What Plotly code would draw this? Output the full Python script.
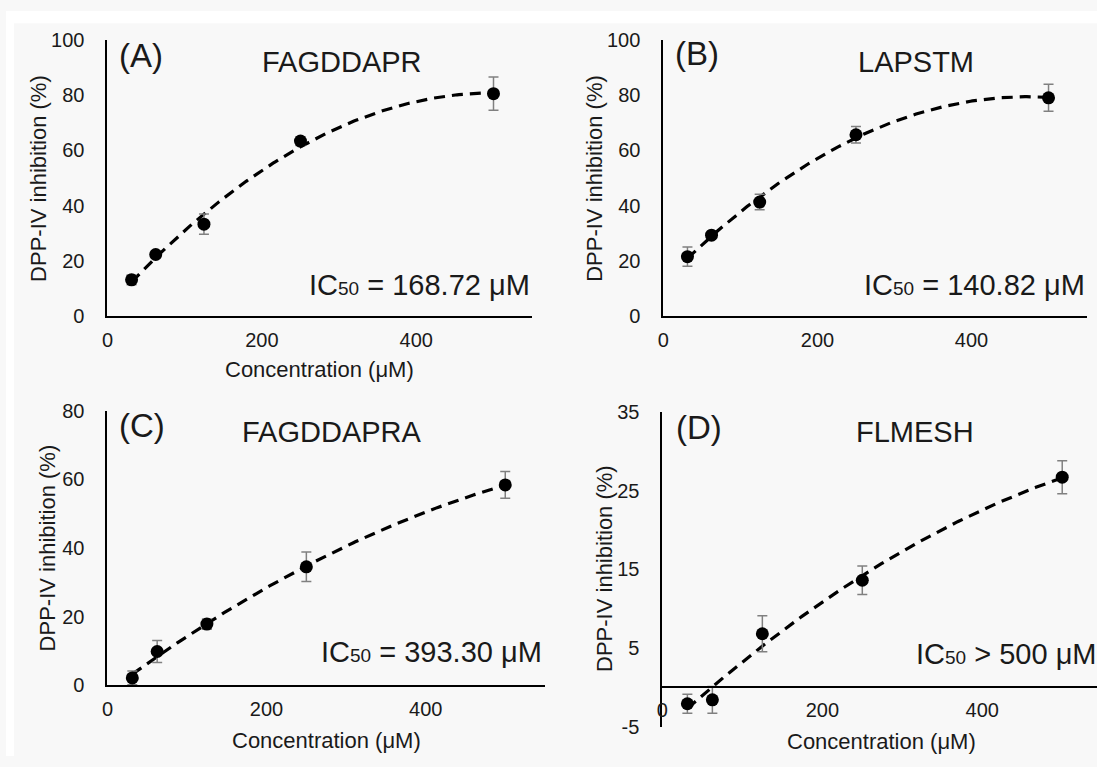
import numpy as np
import plotly.graph_objects as go

W, H = 1097, 767

# ---------------- data ----------------
concentration = [31.25, 62.5, 125, 250, 500]

peptides = ["FAGDDAPR", "LAPSTM", "FAGDDAPRA", "FLMESH"]
panel_labels = ["(A)", "(B)", "(C)", "(D)"]
ic50_main = ["IC|= 168.72 μM", "IC|= 140.82 μM", "IC|= 393.30 μM", "IC|> 500 μM"]

inhib_A = [13.1, 22.3, 33.3, 63.4, 80.6]
err_A = [1.8, 1.2, 3.7, 1.6, 6.0]
inhib_B = [21.5, 29.3, 41.3, 65.7, 79.1]
err_B = [3.5, 1.0, 2.8, 3.0, 4.9]
inhib_C = [2.1, 9.8, 17.8, 34.5, 58.4]
err_C = [2.0, 3.2, 1.5, 4.3, 3.9]
inhib_D = [-2.1, -1.6, 6.8, 13.6, 26.7]
err_D = [1.2, 1.7, 2.3, 1.8, 2.1]

values = [inhib_A, inhib_B, inhib_C, inhib_D]
errors = [err_A, err_B, err_C, err_D]

x_ticks = [0, 200, 400]
y_ticks = [[0, 20, 40, 60, 80, 100], [0, 20, 40, 60, 80, 100],
           [0, 20, 40, 60, 80], [-5, 5, 15, 25, 35]]
y_ticktext = [["0", "20", "40", "60", "80", "100"], ["0", "20", "40", "60", "80", "100"],
              ["0", "20", "40", "60", "80"], ["-5", "5", "15", "25", "35"]]
y_ranges = [[0, 100], [0, 100], [0, 80], [-5, 35]]
x_ranges = [[0, 550], [0, 550], [0, 550], [0, 543.5]]

# ---------------- layout helpers (pixel -> paper) ----------------
def px(x):
    return x / W

def py(y):
    return 1 - y / H

# plot boxes in pixels: (left, right, top, bottom)
boxes = [(102, 529, 30, 314), (661, 1087, 30, 314),
         (102, 542, 411.7, 694), (660, 1097, 412.7, 736.7)]

FONT = "Liberation Sans, Arial, sans-serif"
TXT = "#1a1a1a"

fig = go.Figure()

for i in range(4):
    xa = "x" if i == 0 else f"x{i+1}"
    ya = "y" if i == 0 else f"y{i+1}"
    xs = concentration
    ys = values[i]
    # polynomial (order 2) trendline fitted to the data, as in the original
    coef = np.polyfit(xs, ys, 2)
    xfit = np.linspace(xs[0], xs[-1], 200)
    yfit = np.polyval(coef, xfit)
    fig.add_trace(go.Scatter(
        x=xfit, y=yfit, mode="lines", xaxis=xa, yaxis=ya,
        line=dict(color="black", width=3.2, dash="11px,7px"),
        hoverinfo="skip", showlegend=False))
    fig.add_trace(go.Scatter(
        x=xs, y=ys, mode="markers", xaxis=xa, yaxis=ya,
        marker=dict(color="black", size=13),
        error_y=dict(type="data", array=errors[i], visible=True,
                     color="#808080", thickness=1.5, width=5),
        showlegend=False))

for i in range(4):
    l, r, t, b = boxes[i]
    n = "" if i == 0 else str(i + 1)
    xaxis = dict(
        domain=[px(l), px(r)], range=x_ranges[i], tickvals=x_ticks,
        showline=True, linecolor="black", linewidth=2,
        showgrid=False, zeroline=False, ticks="",
        tickfont=dict(family=FONT, size=20, color=TXT),
        ticklabelstandoff=5,
        anchor="y" + n, fixedrange=True)
    if i == 3:
        # x axis crosses the y axis at 0
        y0_px = b - (0 - y_ranges[3][0]) / (y_ranges[3][1] - y_ranges[3][0]) * (b - t)
        xaxis.update(anchor="free", position=py(y0_px))
    yaxis = dict(
        domain=[py(b), py(t)], range=y_ranges[i], tickvals=y_ticks[i],
        ticktext=y_ticktext[i],
        showline=True, linecolor="black", linewidth=2,
        showgrid=False, zeroline=False, ticks="",
        tickfont=dict(family=FONT, size=20, color=TXT),
        ticklabelstandoff=17,
        anchor="x" + n, fixedrange=True)
    fig.update_layout(**{"xaxis" + n: xaxis, "yaxis" + n: yaxis})

ann = []

def add_text(text, x, y, size, xanchor="center", angle=0):
    ann.append(dict(text=text, x=px(x), y=py(y), xref="paper", yref="paper",
                    xanchor=xanchor, yanchor="middle", showarrow=False,
                    textangle=angle, borderpad=0,
                    font=dict(family=FONT, size=size, color=TXT)))

# panel letters
label_pos = [(113, 46), (672, 44), (113, 427), (673, 429)]
for lab, (x, y) in zip(panel_labels, label_pos):
    add_text(lab, x, y, 33, xanchor="left")

# peptide titles
title_pos = [(337.5, 52), (914.6, 52), (327.6, 433), (913.8, 433.3)]
for name, (x, y) in zip(peptides, title_pos):
    add_text(name, x, y, 29)

# IC50 labels (right aligned)
ic_pos = [(528, 281.7), (1086, 281.7), (539.5, 660), (1098, 661.7)]
for s, (x, y) in zip(ic50_main, ic_pos):
    a, rest = s.split("|")
    txt = a + "<span style='font-size:19px'>50</span> " + rest
    add_text(txt, x, y, 29, xanchor="right")

# axis titles
ytitle = "DPP-IV inhibition (%)"
xtitle = "Concentration (μM)"
for (x, y) in [(32, 172), (591, 172), (42, 552.5), (601.7, 574)]:
    add_text(ytitle, x, y, 22, angle=-90)
for (x, y) in [(315.5, 369), (322, 751), (880.5, 752)]:
    add_text(xtitle, x, y, 22)

fig.update_layout(
    width=W, height=H, margin=dict(l=0, r=0, t=0, b=0),
    paper_bgcolor="#f8f8f8", plot_bgcolor="rgba(0,0,0,0)",
    annotations=ann,
    shapes=[
        dict(type="rect", xref="paper", yref="paper", x0=0, x1=1,
             y0=py(12.5), y1=1, fillcolor="white", line=dict(width=0), layer="below"),
        dict(type="rect", xref="paper", yref="paper", x0=0, x1=px(8),
             y0=0, y1=1, fillcolor="white", line=dict(width=0), layer="below"),
    ],
)

fig.write_html("out.html")
